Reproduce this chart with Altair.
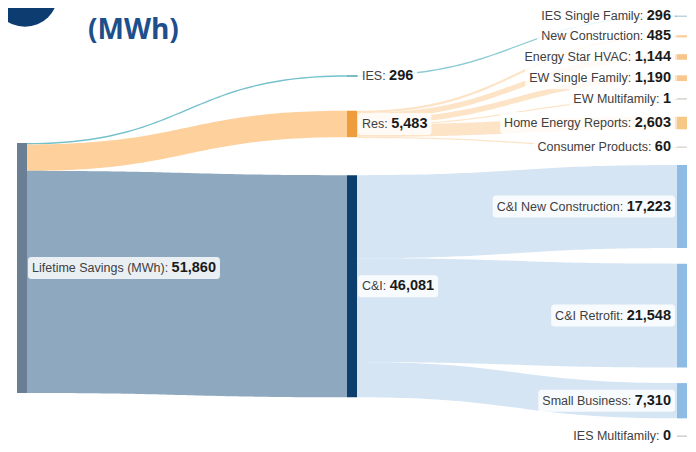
import altair as alt
import pandas as pd
import numpy as np

# ---------------- data ----------------
root_name = "Lifetime Savings (MWh)"
mid_names = ["IES", "Res", "C&I"]
mid_values = [296, 5483, 46081]
leaf_names = ["IES Single Family", "New Construction", "Energy Star HVAC",
              "EW Single Family", "EW Multifamily", "Home Energy Reports",
              "Consumer Products", "C&I New Construction", "C&I Retrofit",
              "Small Business", "IES Multifamily"]
leaf_parents = ["IES", "Res", "Res", "Res", "Res", "Res", "Res",
                "C&I", "C&I", "C&I", "IES"]
leaf_values = [296, 485, 1144, 1190, 1, 2603, 60, 17223, 21548, 7310, 0]
root_value = sum(mid_values)  # 51,860
title_text = "(MWh)"

# ---------------- colours ----------------
ROOT_COLOR = "#6a7e94"
MID_NODE_COLORS = ["#4fa3ad", "#ef9d3c", "#0c3f6d"]
ROOT_LINK_COLORS = ["#74c1cb", "#fdd09c", "#8da8bf"]
LEAF_NODE_COLORS = ["#c3d2dc", "#f9cfa0", "#f7c58b", "#f8c790", "#d3d3d3",
                    "#f6c886", "#d9d9d9", "#8dbbe3", "#8dbbe3", "#8dbbe3", "#cfcfcf"]
MID_LINK_COLORS = {"IES": "#8ccbd3", "Res": "#fde4c6", "C&I": "#d5e5f4"}
NAME_COLOR = "#404040"
VALUE_COLOR = "#1a1a1a"
TITLE_COLOR = "#1d4f8c"
BADGE_COLOR = "#0c3c70"

# ---------------- layout (pixels) ----------------
W, H = 680, 436
STAGE_PX = 330
NODE_PX = 10
X0_PX = 9
MWH = root_value / 250.0          # MWh per pixel
ROOT_TOP = 135
MID_TOP = 67.3
MID_PADS = [34, 38]
LEAF_TOP = 6
LEAF_PAD = 15.6
LEAF_MIN_SLOT = 4.5
NODE_MIN = 1.5
LINK_MIN = 1.2
NAME_SIZE = 12.5
VALUE_SIZE = 14.5
FONT = "Liberation Sans"

NW = NODE_PX / STAGE_PX           # node width in stage units

ARIAL = {" ": 278, "&": 667, "(": 333, ")": 333, ",": 278, "-": 333, ".": 278, ":": 278,
         "A": 667, "B": 667, "C": 722, "D": 722, "E": 667, "F": 611, "G": 778, "H": 722,
         "I": 278, "J": 500, "K": 667, "L": 556, "M": 833, "N": 722, "O": 778, "P": 667,
         "Q": 778, "R": 722, "S": 667, "T": 611, "U": 722, "V": 667, "W": 944, "X": 667,
         "Y": 667, "Z": 611, "a": 556, "b": 556, "c": 500, "d": 556, "e": 556, "f": 278,
         "g": 556, "h": 556, "i": 222, "j": 222, "k": 500, "l": 222, "m": 833, "n": 556,
         "o": 556, "p": 556, "q": 556, "r": 333, "s": 500, "t": 278, "u": 556, "v": 500,
         "w": 722, "x": 500, "y": 500, "z": 500}


def text_w(s, size):
    return sum(ARIAL.get(c, 556) for c in s) * size / 1000.0


# ---------------- node layout ----------------
nodes = []
r_y0 = ROOT_TOP * MWH
nodes.append(dict(name=root_name, value=root_value, stage=0, y0=r_y0,
                  y1=r_y0 + root_value, color=ROOT_COLOR))
mid_top = {}
y = MID_TOP * MWH
for i, (n, v) in enumerate(zip(mid_names, mid_values)):
    mid_top[n] = y
    nodes.append(dict(name=n, value=v, stage=1, y0=y, y1=y + v, color=MID_NODE_COLORS[i]))
    if i < len(MID_PADS):
        y += v + MID_PADS[i] * MWH
leaf_top = []
y = LEAF_TOP * MWH
for i, (n, v) in enumerate(zip(leaf_names, leaf_values)):
    slot = max(v, LEAF_MIN_SLOT * MWH)
    top = y + (slot - v) / 2
    leaf_top.append(top)
    nodes.append(dict(name=n, value=v, stage=2, y0=top, y1=top + v, color=LEAF_NODE_COLORS[i]))
    y += slot + LEAF_PAD * MWH

for nd in nodes:
    c = (nd["y0"] + nd["y1"]) / 2
    h = max(nd["value"], NODE_MIN * MWH)
    nd["yd0"], nd["yd1"] = c - h / 2, c + h / 2
    nd["yc"] = c
    nd["x0"], nd["x1"] = nd["stage"], nd["stage"] + NW
nodes_df = pd.DataFrame(nodes)

# ---------------- links ----------------
T = np.linspace(0, 1, 60)
FX = 1.5 * T * (1 - T) + T ** 3
FY = 3 * T ** 2 - 2 * T ** 3
rows = []


def add_link(lid, stage, sy, ty, v, color, op):
    if v <= 0:
        return
    th = max(v, LINK_MIN * MWH)
    x0, x1 = stage + NW, stage + 1
    for fx, fy in zip(FX, FY):
        yy = sy + (ty - sy) * fy
        rows.append(dict(link=lid, x=x0 + (x1 - x0) * fx, yt=yy, yb=yy + th,
                         color=color, op=op))


off = r_y0
for i, (n, v) in enumerate(zip(mid_names, mid_values)):
    add_link(f"r-{n}", 0, off, mid_top[n], v, ROOT_LINK_COLORS[i], 1.0)
    off += v
for n in mid_names:
    off = mid_top[n]
    for j, (ln, lp, lv) in enumerate(zip(leaf_names, leaf_parents, leaf_values)):
        if lp != n:
            continue
        add_link(f"{n}-{ln}", 1, off, leaf_top[j], lv, MID_LINK_COLORS[n], 1.0)
        off += lv
links_df = pd.DataFrame(rows)

# ---------------- labels ----------------
labels = []
sp = text_w(" ", NAME_SIZE)
for nd in nodes:
    name = nd["name"] + ":"
    val = f"{nd['value']:,}"
    nw_, vw_ = text_w(name, NAME_SIZE), text_w(val, VALUE_SIZE)
    tot = nw_ + sp + vw_
    if nd["stage"] < 2:
        a = nd["x1"] + 5 / STAGE_PX
        labels.append(dict(name=name, val=val, y=nd["yc"], align="left",
                           xn=a, xv=a + (nw_ + sp) / STAGE_PX,
                           bx0=a - 4 / STAGE_PX, bx1=a + (tot + 4) / STAGE_PX))
    else:
        a = nd["x0"] - 6 / STAGE_PX
        labels.append(dict(name=name, val=val, y=nd["yc"], align="right",
                           xn=a - (vw_ + sp) / STAGE_PX, xv=a,
                           bx0=a - (tot + 4) / STAGE_PX, bx1=a + 4 / STAGE_PX))
lab_df = pd.DataFrame(labels)
lab_df["by0"] = lab_df["y"] - 11 * MWH
lab_df["by1"] = lab_df["y"] + 11 * MWH
left_lab = lab_df[lab_df["align"] == "left"]
right_lab = lab_df[lab_df["align"] == "right"]

# ---------------- scales ----------------
xs = alt.Scale(domain=[-X0_PX / STAGE_PX, (W - X0_PX) / STAGE_PX], nice=False, zero=False)
ys = alt.Scale(domain=[0, H * MWH], reverse=True, nice=False, zero=False)

link_layer = alt.Chart(links_df).mark_area(interpolate="linear").encode(
    x=alt.X("x:Q", scale=xs, axis=None),
    y=alt.Y("yt:Q", scale=ys, axis=None),
    y2="yb:Q",
    color=alt.Color("color:N", scale=None),
    opacity=alt.Opacity("op:Q", scale=None),
    detail="link:N",
)

node_layer = alt.Chart(nodes_df).mark_rect().encode(
    x=alt.X("x0:Q", scale=xs, axis=None), x2="x1:Q",
    y=alt.Y("yd0:Q", scale=ys, axis=None), y2="yd1:Q",
    color=alt.Color("color:N", scale=None),
)

box_layer = alt.Chart(lab_df).mark_rect(color="white", opacity=0.82, cornerRadius=3).encode(
    x=alt.X("bx0:Q", scale=xs, axis=None), x2="bx1:Q",
    y=alt.Y("by0:Q", scale=ys, axis=None), y2="by1:Q",
)


def text_layer(df, field, xfield, align, size, weight, color):
    return alt.Chart(df).mark_text(align=align, baseline="middle", font=FONT,
                                   fontSize=size, fontWeight=weight, color=color).encode(
        x=alt.X(f"{xfield}:Q", scale=xs, axis=None),
        y=alt.Y("y:Q", scale=ys, axis=None),
        text=f"{field}:N",
    )


texts = [
    text_layer(left_lab, "name", "xn", "left", NAME_SIZE, "normal", NAME_COLOR),
    text_layer(left_lab, "val", "xv", "left", VALUE_SIZE, "bold", VALUE_COLOR),
    text_layer(right_lab, "name", "xn", "right", NAME_SIZE, "normal", NAME_COLOR),
    text_layer(right_lab, "val", "xv", "right", VALUE_SIZE, "bold", VALUE_COLOR),
]

badge = alt.Chart(pd.DataFrame({"a": [0]})).mark_circle(
    size=4301, color=BADGE_COLOR, opacity=1).encode(x=alt.value(17), y=alt.value(-14))
title = alt.Chart(pd.DataFrame({"t": [title_text]})).mark_text(
    align="left", baseline="alphabetic", font="Open Sans", fontSize=28,
    fontWeight="bold", color=TITLE_COLOR).encode(
    x=alt.value(80), y=alt.value(31), text="t:N")

chart = alt.layer(link_layer, node_layer, box_layer, *texts, badge, title).properties(
    width=W, height=H, padding=0,
    autosize=alt.AutoSizeParams(type="none"),
).configure_view(strokeWidth=0)

chart.save("out.html", embed_options={"renderer": "svg", "actions": False})
